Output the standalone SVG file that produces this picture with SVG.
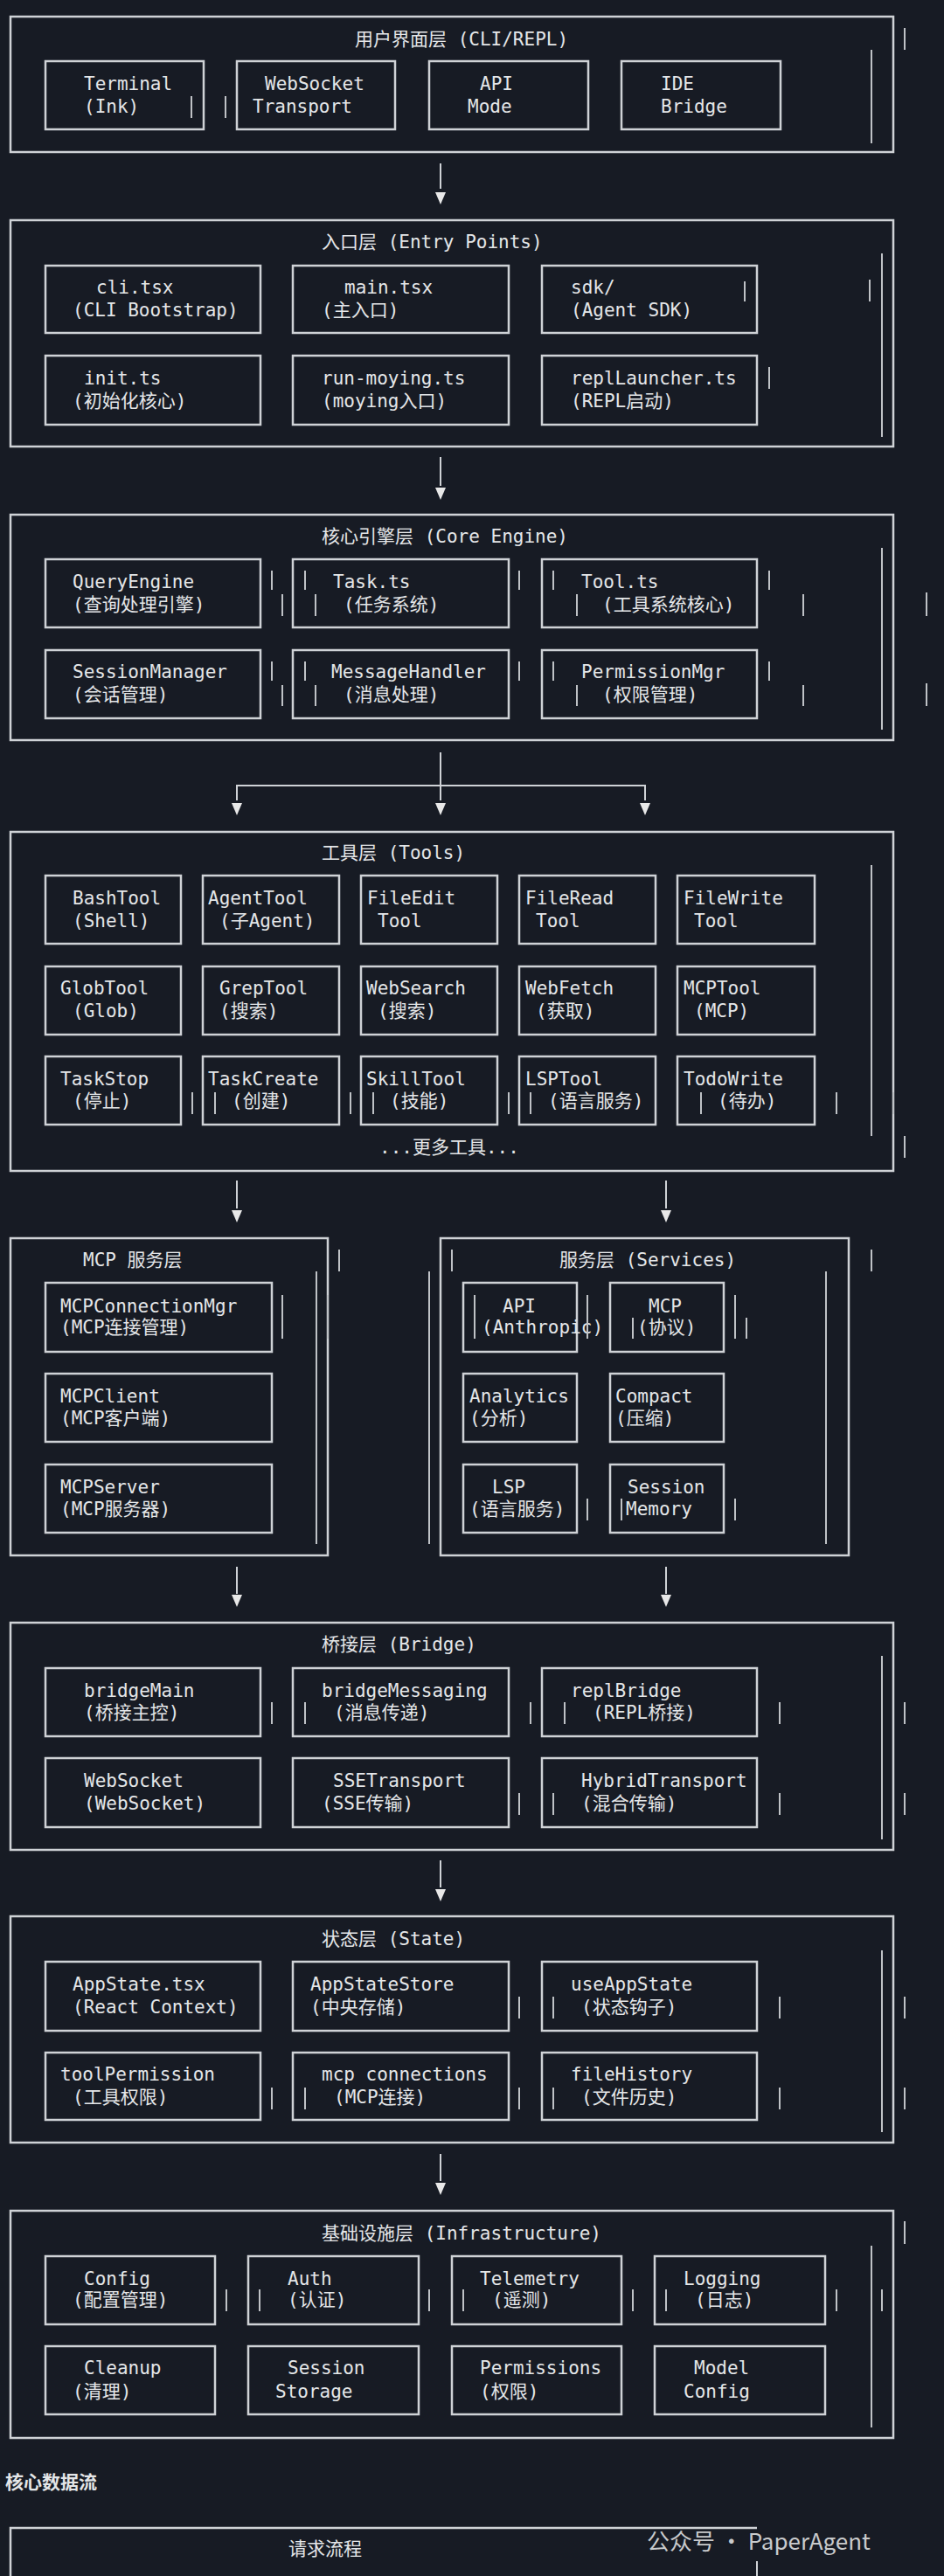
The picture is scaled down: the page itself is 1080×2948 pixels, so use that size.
<svg xmlns="http://www.w3.org/2000/svg" width="1080" height="2948" viewBox="0 0 1080 2948">
<style>
.bg{fill:#171b24}
.L{fill:none;stroke:#cfd2d6;stroke-width:2.5}
.B{fill:none;stroke:#cfd2d6;stroke-width:2.5}
.t{fill:#e4e6e8;font-family:"DejaVu Sans Mono","Noto Sans CJK SC",monospace;font-size:21px}
.c{stroke:#cfd2d6;stroke-width:2;fill:none}
.h{fill:#e8e8e8}
.a{stroke:#bfc2c6;stroke-width:2}
.w{fill:#c8cacc;font-family:"Noto Sans CJK SC","Liberation Sans",sans-serif;font-size:26px}
</style>
<rect class="bg" width="1080" height="2948"/>

<g id="layer-ui">
<rect class="L" x="12" y="19" width="1010" height="155"/>
<text class="t" x="406" y="52">用户界面层 (CLI/REPL)</text>
<rect class="B" x="52" y="70" width="181" height="78"/><text class="t" x="96" y="103">Terminal</text><text class="t" x="96" y="129">(Ink)</text>
<rect class="B" x="271" y="70" width="181" height="78"/><text class="t" x="303" y="103">WebSocket</text><text class="t" x="289" y="129">Transport</text>
<rect class="B" x="491" y="70" width="182" height="78"/><text class="t" x="549" y="103">API</text><text class="t" x="535" y="129">Mode</text>
<rect class="B" x="711" y="70" width="182" height="78"/><text class="t" x="756" y="103">IDE</text><text class="t" x="756" y="129">Bridge</text>
</g>

<g id="layer-entry">
<rect class="L" x="12" y="252" width="1010" height="259"/>
<text class="t" x="368" y="284">入口层 (Entry Points)</text>
<rect class="B" x="52" y="304" width="246" height="77"/><text class="t" x="110" y="336">cli.tsx</text><text class="t" x="83" y="362">(CLI Bootstrap)</text>
<rect class="B" x="335" y="304" width="247" height="77"/><text class="t" x="394" y="336">main.tsx</text><text class="t" x="368" y="362">(主入口)</text>
<rect class="B" x="620" y="304" width="246" height="77"/><text class="t" x="653" y="336">sdk/</text><text class="t" x="653" y="362">(Agent SDK)</text>
<rect class="B" x="52" y="407" width="246" height="79"/><text class="t" x="96" y="440">init.ts</text><text class="t" x="83" y="466">(初始化核心)</text>
<rect class="B" x="335" y="407" width="247" height="79"/><text class="t" x="368" y="440">run-moying.ts</text><text class="t" x="368" y="466">(moying入口)</text>
<rect class="B" x="620" y="407" width="246" height="79"/><text class="t" x="653" y="440">replLauncher.ts</text><text class="t" x="653" y="466">(REPL启动)</text>
</g>

<g id="layer-core">
<rect class="L" x="12" y="589" width="1010" height="258"/>
<text class="t" x="368" y="621">核心引擎层 (Core Engine)</text>
<rect class="B" x="52" y="640" width="246" height="78"/><text class="t" x="83" y="673">QueryEngine</text><text class="t" x="83" y="699">(查询处理引擎)</text>
<rect class="B" x="335" y="640" width="247" height="78"/><text class="t" x="381" y="673">Task.ts</text><text class="t" x="393" y="699">(任务系统)</text>
<rect class="B" x="620" y="640" width="246" height="78"/><text class="t" x="665" y="673">Tool.ts</text><text class="t" x="689" y="699">(工具系统核心)</text>
<rect class="B" x="52" y="744" width="246" height="78"/><text class="t" x="83" y="776">SessionManager</text><text class="t" x="83" y="802">(会话管理)</text>
<rect class="B" x="335" y="744" width="247" height="78"/><text class="t" x="379" y="776">MessageHandler</text><text class="t" x="393" y="802">(消息处理)</text>
<rect class="B" x="620" y="744" width="246" height="78"/><text class="t" x="665" y="776">PermissionMgr</text><text class="t" x="689" y="802">(权限管理)</text>
</g>

<g id="layer-tools">
<rect class="L" x="12" y="952" width="1010" height="388"/>
<text class="t" x="368" y="983">工具层 (Tools)</text>
<rect class="B" x="52" y="1002" width="155" height="78"/><text class="t" x="83" y="1035">BashTool</text><text class="t" x="83" y="1061">(Shell)</text>
<rect class="B" x="232" y="1002" width="156" height="78"/><text class="t" x="238" y="1035">AgentTool</text><text class="t" x="251" y="1061">(子Agent)</text>
<rect class="B" x="413" y="1002" width="156" height="78"/><text class="t" x="420" y="1035">FileEdit</text><text class="t" x="432" y="1061">Tool</text>
<rect class="B" x="594" y="1002" width="156" height="78"/><text class="t" x="601" y="1035">FileRead</text><text class="t" x="613" y="1061">Tool</text>
<rect class="B" x="775" y="1002" width="157" height="78"/><text class="t" x="782" y="1035">FileWrite</text><text class="t" x="794" y="1061">Tool</text>
<rect class="B" x="52" y="1106" width="155" height="78"/><text class="t" x="69" y="1138">GlobTool</text><text class="t" x="83" y="1164">(Glob)</text>
<rect class="B" x="232" y="1106" width="156" height="78"/><text class="t" x="251" y="1138">GrepTool</text><text class="t" x="251" y="1164">(搜索)</text>
<rect class="B" x="413" y="1106" width="156" height="78"/><text class="t" x="419" y="1138">WebSearch</text><text class="t" x="432" y="1164">(搜索)</text>
<rect class="B" x="594" y="1106" width="156" height="78"/><text class="t" x="601" y="1138">WebFetch</text><text class="t" x="613" y="1164">(获取)</text>
<rect class="B" x="775" y="1106" width="157" height="78"/><text class="t" x="782" y="1138">MCPTool</text><text class="t" x="794" y="1164">(MCP)</text>
<rect class="B" x="52" y="1209" width="155" height="78"/><text class="t" x="69" y="1242">TaskStop</text><text class="t" x="83" y="1267">(停止)</text>
<rect class="B" x="232" y="1209" width="156" height="78"/><text class="t" x="238" y="1242">TaskCreate</text><text class="t" x="265" y="1267">(创建)</text>
<rect class="B" x="413" y="1209" width="156" height="78"/><text class="t" x="419" y="1242">SkillTool</text><text class="t" x="446" y="1267">(技能)</text>
<rect class="B" x="594" y="1209" width="156" height="78"/><text class="t" x="601" y="1242">LSPTool</text><text class="t" x="627" y="1267">(语言服务)</text>
<rect class="B" x="775" y="1209" width="157" height="78"/><text class="t" x="782" y="1242">TodoWrite</text><text class="t" x="821" y="1267">(待办)</text>
<text class="t" x="434" y="1320">...更多工具...</text>
</g>

<g id="layer-mcp">
<rect class="L" x="12" y="1417" width="363" height="363"/>
<text class="t" x="95" y="1449">MCP 服务层</text>
<rect class="B" x="52" y="1468" width="259" height="79"/><text class="t" x="69" y="1502">MCPConnectionMgr</text><text class="t" x="69" y="1526">(MCP连接管理)</text>
<rect class="B" x="52" y="1572" width="259" height="78"/><text class="t" x="69" y="1605">MCPClient</text><text class="t" x="69" y="1630">(MCP客户端)</text>
<rect class="B" x="52" y="1676" width="259" height="78"/><text class="t" x="69" y="1709">MCPServer</text><text class="t" x="69" y="1734">(MCP服务器)</text>
</g>

<g id="layer-services">
<rect class="L" x="504" y="1417" width="467" height="363"/>
<text class="t" x="640" y="1449">服务层 (Services)</text>
<rect class="B" x="530" y="1468" width="130" height="79"/><text class="t" x="575" y="1502">API</text><text class="t" x="551" y="1526">(Anthropic)</text>
<rect class="B" x="698" y="1468" width="130" height="79"/><text class="t" x="742" y="1502">MCP</text><text class="t" x="729" y="1526">(协议)</text>
<rect class="B" x="530" y="1572" width="130" height="78"/><text class="t" x="537" y="1605">Analytics</text><text class="t" x="537" y="1630">(分析)</text>
<rect class="B" x="698" y="1572" width="130" height="78"/><text class="t" x="704" y="1605">Compact</text><text class="t" x="704" y="1630">(压缩)</text>
<rect class="B" x="530" y="1676" width="130" height="78"/><text class="t" x="563" y="1709">LSP</text><text class="t" x="537" y="1734">(语言服务)</text>
<rect class="B" x="698" y="1676" width="130" height="78"/><text class="t" x="718" y="1709">Session</text><text class="t" x="716" y="1734">Memory</text>
</g>

<g id="layer-bridge">
<rect class="L" x="12" y="1857" width="1010" height="260"/>
<text class="t" x="368" y="1889">桥接层 (Bridge)</text>
<rect class="B" x="52" y="1909" width="246" height="78"/><text class="t" x="96" y="1942">bridgeMain</text><text class="t" x="96" y="1967">(桥接主控)</text>
<rect class="B" x="335" y="1909" width="247" height="78"/><text class="t" x="368" y="1942">bridgeMessaging</text><text class="t" x="382" y="1967">(消息传递)</text>
<rect class="B" x="620" y="1909" width="246" height="78"/><text class="t" x="653" y="1942">replBridge</text><text class="t" x="678" y="1967">(REPL桥接)</text>
<rect class="B" x="52" y="2012" width="246" height="79"/><text class="t" x="96" y="2045">WebSocket</text><text class="t" x="96" y="2071">(WebSocket)</text>
<rect class="B" x="335" y="2012" width="247" height="79"/><text class="t" x="381" y="2045">SSETransport</text><text class="t" x="368" y="2071">(SSE传输)</text>
<rect class="B" x="620" y="2012" width="246" height="79"/><text class="t" x="665" y="2045">HybridTransport</text><text class="t" x="665" y="2071">(混合传输)</text>
</g>

<g id="layer-state">
<rect class="L" x="12" y="2193" width="1010" height="259"/>
<text class="t" x="368" y="2226">状态层 (State)</text>
<rect class="B" x="52" y="2245" width="246" height="79"/><text class="t" x="83" y="2278">AppState.tsx</text><text class="t" x="83" y="2304">(React Context)</text>
<rect class="B" x="335" y="2245" width="247" height="79"/><text class="t" x="355" y="2278">AppStateStore</text><text class="t" x="355" y="2304">(中央存储)</text>
<rect class="B" x="620" y="2245" width="246" height="79"/><text class="t" x="653" y="2278">useAppState</text><text class="t" x="665" y="2304">(状态钩子)</text>
<rect class="B" x="52" y="2349" width="246" height="77"/><text class="t" x="69" y="2381">toolPermission</text><text class="t" x="83" y="2407">(工具权限)</text>
<rect class="B" x="335" y="2349" width="247" height="77"/><text class="t" x="368" y="2381">mcp connections</text><text class="t" x="382" y="2407">(MCP连接)</text>
<rect class="B" x="620" y="2349" width="246" height="77"/><text class="t" x="653" y="2381">fileHistory</text><text class="t" x="665" y="2407">(文件历史)</text>
</g>

<g id="layer-infra">
<rect class="L" x="12" y="2530" width="1010" height="260"/>
<text class="t" x="368" y="2563">基础设施层 (Infrastructure)</text>
<rect class="B" x="52" y="2582" width="194" height="78"/><text class="t" x="96" y="2615">Config</text><text class="t" x="83" y="2639">(配置管理)</text>
<rect class="B" x="284" y="2582" width="195" height="78"/><text class="t" x="329" y="2615">Auth</text><text class="t" x="329" y="2639">(认证)</text>
<rect class="B" x="517" y="2582" width="194" height="78"/><text class="t" x="549" y="2615">Telemetry</text><text class="t" x="563" y="2639">(遥测)</text>
<rect class="B" x="749" y="2582" width="195" height="78"/><text class="t" x="782" y="2615">Logging</text><text class="t" x="795" y="2639">(日志)</text>
<rect class="B" x="52" y="2685" width="194" height="78"/><text class="t" x="96" y="2717">Cleanup</text><text class="t" x="83" y="2744">(清理)</text>
<rect class="B" x="284" y="2685" width="195" height="78"/><text class="t" x="329" y="2717">Session</text><text class="t" x="315" y="2744">Storage</text>
<rect class="B" x="517" y="2685" width="194" height="78"/><text class="t" x="549" y="2717">Permissions</text><text class="t" x="549" y="2744">(权限)</text>
<rect class="B" x="749" y="2685" width="195" height="78"/><text class="t" x="794" y="2717">Model</text><text class="t" x="782" y="2744">Config</text>
</g>

<g id="dataflow">
<text x="6" y="2848" style="fill:#e4e6e8;font-family:'Noto Sans CJK SC',sans-serif;font-size:21px;font-weight:bold">核心数据流</text>
<path class="L" d="M12 2948 V2893 H866"/>
<line class="c" x1="866" y1="2931" x2="866" y2="2948"/>
<text class="t" x="330" y="2924">请求流程</text>
</g>

<g id="connectors">
<line class="c" x1="504" y1="187" x2="504" y2="216"/><path class="h" d="M498 220 H510 L504 234 Z"/>
<line class="c" x1="504" y1="523" x2="504" y2="556"/><path class="h" d="M498 558 H510 L504 572 Z"/>
<line class="c" x1="504" y1="861" x2="504" y2="916"/>
<path class="c" d="M271 916 V899 H738 V916"/>
<path class="h" d="M265 919 H277 L271 933 Z"/><path class="h" d="M498 919 H510 L504 933 Z"/><path class="h" d="M732 919 H744 L738 933 Z"/>
<line class="c" x1="271" y1="1351" x2="271" y2="1383"/><path class="h" d="M265 1385 H277 L271 1399 Z"/>
<line class="c" x1="762" y1="1351" x2="762" y2="1383"/><path class="h" d="M756 1385 H768 L762 1399 Z"/>
<line class="c" x1="271" y1="1793" x2="271" y2="1824"/><path class="h" d="M265 1825 H277 L271 1839 Z"/>
<line class="c" x1="762" y1="1793" x2="762" y2="1824"/><path class="h" d="M756 1825 H768 L762 1839 Z"/>
<line class="c" x1="504" y1="2129" x2="504" y2="2160"/><path class="h" d="M498 2162 H510 L504 2176 Z"/>
<line class="c" x1="504" y1="2465" x2="504" y2="2496"/><path class="h" d="M498 2498 H510 L504 2512 Z"/>
</g>

<g id="artifacts">
<line class="a" x1="1035" y1="32" x2="1035" y2="57"/><line class="a" x1="997" y1="57" x2="997" y2="164"/>
<line class="a" x1="219" y1="110" x2="219" y2="135"/><line class="a" x1="258" y1="110" x2="258" y2="135"/>
<line class="a" x1="1009" y1="290" x2="1009" y2="500"/><line class="a" x1="995" y1="320" x2="995" y2="345"/><line class="a" x1="852" y1="322" x2="852" y2="345"/><line class="a" x1="880" y1="420" x2="880" y2="445"/>
<line class="a" x1="1009" y1="627" x2="1009" y2="835"/><line class="a" x1="1060" y1="678" x2="1060" y2="705"/><line class="a" x1="1060" y1="782" x2="1060" y2="808"/>
<line class="a" x1="311" y1="653" x2="311" y2="675"/><line class="a" x1="323" y1="680" x2="323" y2="705"/><line class="a" x1="349" y1="653" x2="349" y2="675"/><line class="a" x1="361" y1="680" x2="361" y2="705"/>
<line class="a" x1="594" y1="653" x2="594" y2="675"/><line class="a" x1="633" y1="653" x2="633" y2="675"/><line class="a" x1="660" y1="680" x2="660" y2="705"/><line class="a" x1="880" y1="653" x2="880" y2="675"/><line class="a" x1="919" y1="680" x2="919" y2="705"/>
<line class="a" x1="311" y1="757" x2="311" y2="779"/><line class="a" x1="323" y1="784" x2="323" y2="808"/><line class="a" x1="349" y1="757" x2="349" y2="779"/><line class="a" x1="361" y1="784" x2="361" y2="808"/>
<line class="a" x1="594" y1="757" x2="594" y2="779"/><line class="a" x1="633" y1="757" x2="633" y2="779"/><line class="a" x1="660" y1="784" x2="660" y2="808"/><line class="a" x1="880" y1="757" x2="880" y2="779"/><line class="a" x1="919" y1="784" x2="919" y2="808"/>
<line class="a" x1="997" y1="990" x2="997" y2="1300"/><line class="a" x1="1035" y1="1300" x2="1035" y2="1325"/>
<line class="a" x1="220" y1="1250" x2="220" y2="1275"/><line class="a" x1="246" y1="1250" x2="246" y2="1275"/><line class="a" x1="401" y1="1250" x2="401" y2="1275"/><line class="a" x1="427" y1="1250" x2="427" y2="1275"/><line class="a" x1="582" y1="1250" x2="582" y2="1275"/><line class="a" x1="607" y1="1250" x2="607" y2="1275"/><line class="a" x1="802" y1="1250" x2="802" y2="1275"/><line class="a" x1="957" y1="1250" x2="957" y2="1275"/><line class="a" x1="1022" y1="1250" x2="1022" y2="1275"/>
<line class="a" x1="388" y1="1430" x2="388" y2="1455"/><line class="a" x1="362" y1="1455" x2="362" y2="1767"/><line class="a" x1="323" y1="1482" x2="323" y2="1532"/><line class="a" x1="375" y1="1482" x2="375" y2="1532"/>
<line class="a" x1="517" y1="1430" x2="517" y2="1455"/><line class="a" x1="491" y1="1455" x2="491" y2="1767"/><line class="a" x1="997" y1="1430" x2="997" y2="1455"/><line class="a" x1="945" y1="1455" x2="945" y2="1767"/>
<line class="a" x1="543" y1="1482" x2="543" y2="1532"/><line class="a" x1="672" y1="1482" x2="672" y2="1532"/><line class="a" x1="724" y1="1508" x2="724" y2="1532"/><line class="a" x1="841" y1="1482" x2="841" y2="1532"/><line class="a" x1="854" y1="1508" x2="854" y2="1532"/>
<line class="a" x1="672" y1="1715" x2="672" y2="1740"/><line class="a" x1="711" y1="1715" x2="711" y2="1740"/><line class="a" x1="841" y1="1715" x2="841" y2="1740"/>
<line class="a" x1="1009" y1="1895" x2="1009" y2="2105"/><line class="a" x1="1035" y1="1948" x2="1035" y2="1973"/><line class="a" x1="1035" y1="2052" x2="1035" y2="2077"/>
<line class="a" x1="311" y1="1948" x2="311" y2="1973"/><line class="a" x1="349" y1="1948" x2="349" y2="1973"/><line class="a" x1="607" y1="1948" x2="607" y2="1973"/><line class="a" x1="646" y1="1948" x2="646" y2="1973"/><line class="a" x1="892" y1="1948" x2="892" y2="1973"/>
<line class="a" x1="594" y1="2052" x2="594" y2="2077"/><line class="a" x1="633" y1="2052" x2="633" y2="2077"/><line class="a" x1="892" y1="2052" x2="892" y2="2077"/>
<line class="a" x1="1009" y1="2232" x2="1009" y2="2440"/><line class="a" x1="1035" y1="2285" x2="1035" y2="2310"/><line class="a" x1="1035" y1="2389" x2="1035" y2="2414"/>
<line class="a" x1="594" y1="2285" x2="594" y2="2310"/><line class="a" x1="633" y1="2285" x2="633" y2="2310"/><line class="a" x1="892" y1="2285" x2="892" y2="2310"/>
<line class="a" x1="311" y1="2389" x2="311" y2="2414"/><line class="a" x1="349" y1="2389" x2="349" y2="2414"/><line class="a" x1="594" y1="2389" x2="594" y2="2414"/><line class="a" x1="633" y1="2389" x2="633" y2="2414"/><line class="a" x1="892" y1="2389" x2="892" y2="2414"/>
<line class="a" x1="1035" y1="2542" x2="1035" y2="2568"/><line class="a" x1="997" y1="2570" x2="997" y2="2778"/><line class="a" x1="1009" y1="2620" x2="1009" y2="2645"/>
<line class="a" x1="259" y1="2620" x2="259" y2="2645"/><line class="a" x1="297" y1="2620" x2="297" y2="2645"/><line class="a" x1="491" y1="2620" x2="491" y2="2645"/><line class="a" x1="530" y1="2620" x2="530" y2="2645"/><line class="a" x1="724" y1="2620" x2="724" y2="2645"/><line class="a" x1="762" y1="2620" x2="762" y2="2645"/><line class="a" x1="957" y1="2620" x2="957" y2="2645"/>
</g>

<g id="watermark">
<text class="w" x="740" y="2918">公众号 · PaperAgent</text>
</g>
</svg>
